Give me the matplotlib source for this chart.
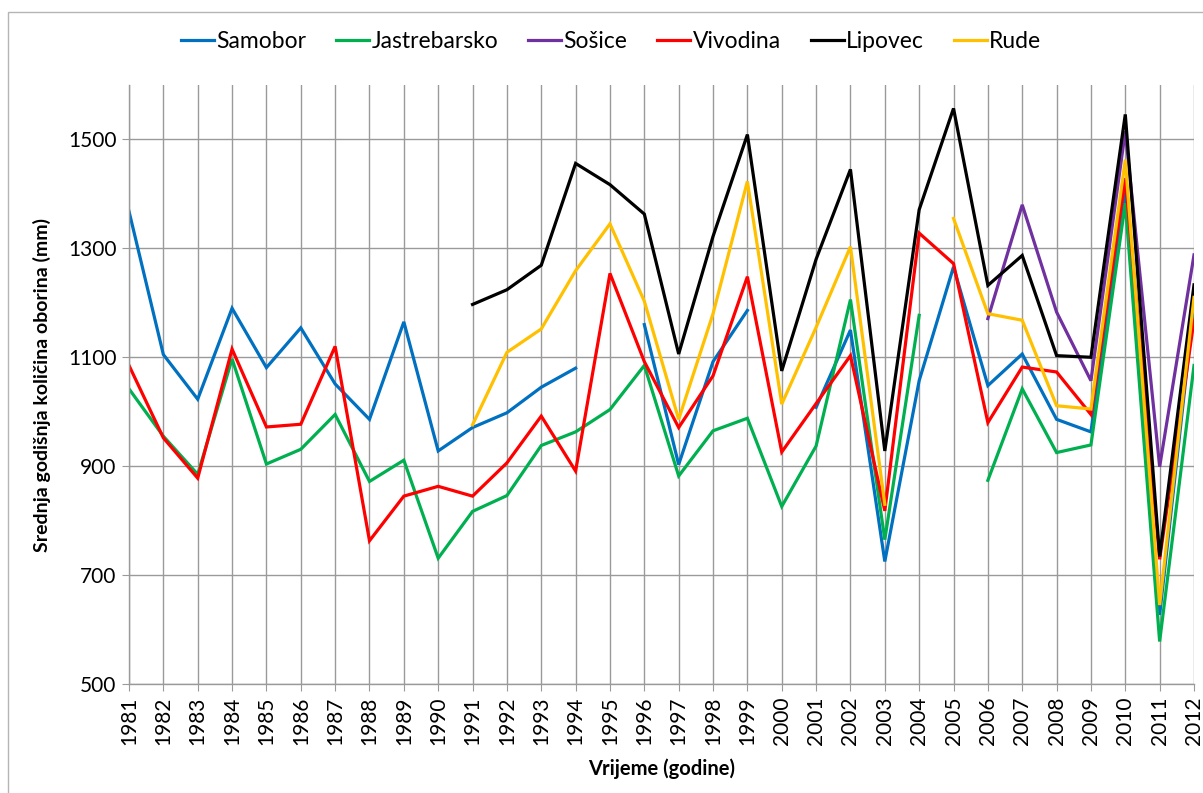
import numpy as np
import matplotlib
matplotlib.use("Agg")
import matplotlib.pyplot as plt
from matplotlib.patches import Rectangle

plt.rcParams['font.family'] = ['Lato', 'DejaVu Sans']

nan = np.nan
years = list(range(1981, 2013))

samobor = [1368, 1105, 1023, 1190, 1081, 1154, 1051, 986, 1165, 928,
           971, 998, 1045, 1080, nan, 1160, 903, 1092, 1186, nan,
           1008, 1150, 725, 1057, 1266, 1048, 1106, 986, 963, 1410,
           627, 1195]
jastrebarsko = [1042, 955, 885, 1097, 904, 931, 995, 872, 911, 731,
                817, 846, 938, 963, 1004, 1085, 882, 965, 988, 826,
                937, 1206, 765, 1177, nan, 874, 1042, 925, 939, 1383,
                578, 1085]
sosice = [nan] * 25 + [1171, 1380, 1183, 1057, 1515, 899, 1288]
vivodina = [1085, 952, 878, 1115, 972, 977, 1120, 763, 845, 863,
            845, 906, 992, 891, 1254, 1092, 971, 1066, 1248, 926,
            1015, 1103, 818, 1328, 1272, 980, 1082, 1073, 995, 1429,
            729, 1168]
lipovec = [nan] * 10 + [1197, 1224, 1269, 1456, 1417, 1363, 1106, 1322, 1509, 1075,
                        1280, 1445, 928, 1371, 1557, 1232, 1287, 1103, 1100, 1546,
                        734, 1233]
rude = [nan] * 10 + [976, 1109, 1152, 1259, 1345, 1203, 986, 1180, 1423, 1014,
                     1155, 1303, 830, nan, 1355, 1180, 1168, 1011, 1005, 1463,
                     645, 1210]

names = ["Samobor", "Jastrebarsko", "Sošice", "Vivodina", "Lipovec", "Rude"]
series = [samobor, jastrebarsko, sosice, vivodina, lipovec, rude]
colors = ["#0070C0", "#00B050", "#7030A0", "#FF0000", "#000000", "#FFC000"]

W, H = 1203, 793
fig = plt.figure(figsize=(W / 100, H / 100), dpi=100)
ax = fig.add_axes([129 / W, 1 - 684 / H, (1194 - 129) / W, (684 - 85) / H])

grid_c = "#9a9a9a"
for name, vals, c in zip(names, series, colors):
    ax.plot(years, vals, color=c, lw=2.3, label=name, solid_joinstyle='miter')

ax.set_xlim(1981, 2012)
ax.set_ylim(500, 1600)
ax.set_xticks(years)
ax.set_xticklabels([str(y) for y in years], rotation=90, fontsize=15)
ax.set_yticks([500, 700, 900, 1100, 1300, 1500])
ax.tick_params(axis='y', labelsize=15, length=5, color=grid_c, pad=4)
ax.tick_params(axis='x', length=5, color=grid_c, pad=4)
ax.grid(True, color=grid_c, lw=1)
ax.set_axisbelow(True)
for s in ['top', 'right']:
    ax.spines[s].set_visible(False)
for s in ['left', 'bottom']:
    ax.spines[s].set_color(grid_c)
    ax.spines[s].set_linewidth(1)

ax.set_xlabel("Vrijeme (godine)", fontsize=14.5, fontweight='bold', labelpad=10)
ax.set_ylabel("Srednja godišnja količina oborina (mm)", fontsize=14, fontweight='bold', labelpad=12)

fig.legend(loc='center', bbox_to_anchor=(611 / W, 1 - 42 / H), ncol=6, frameon=False,
           fontsize=16.5, handlelength=1.45, handletextpad=0.1, columnspacing=1.3)

fig.add_artist(Rectangle((8 / W, -0.1), 1.2, 1.1 - 12 / H, transform=fig.transFigure,
                         fill=False, edgecolor="#b5b5b5", lw=1))

fig.savefig("out.png", dpi=100)
